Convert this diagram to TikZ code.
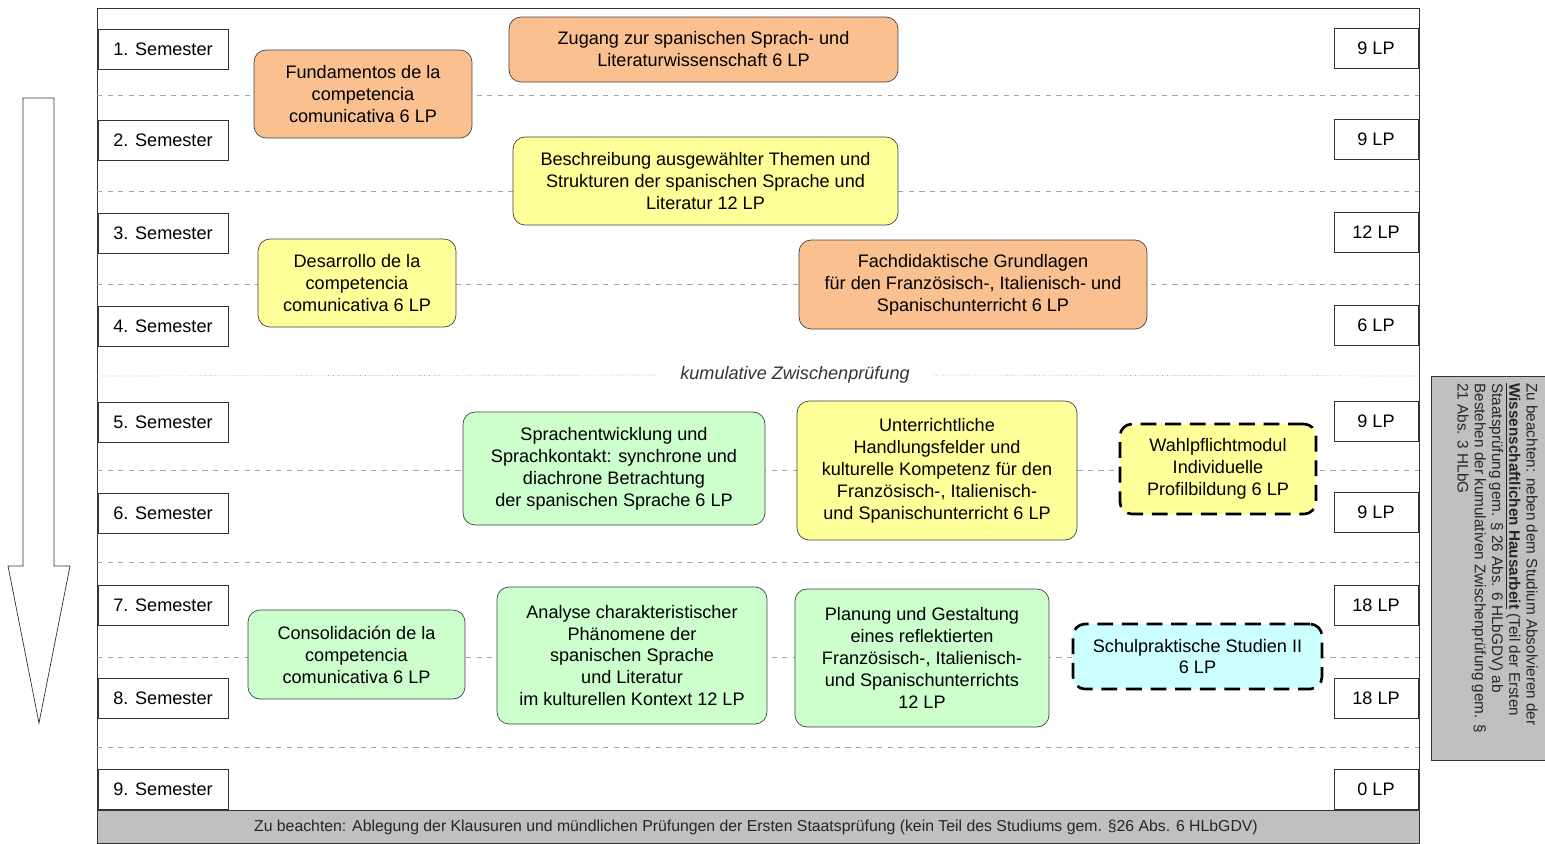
\documentclass[tikz,border=0pt]{standalone}
\usepackage{fontspec}
\setmainfont{Liberation Sans}
\definecolor{orangefill}{HTML}{FAC090}
\definecolor{yellowfill}{HTML}{FFFF99}
\definecolor{greenfill}{HTML}{CCFFCC}
\definecolor{cyanfill}{HTML}{CCFFFF}
\definecolor{notegray}{HTML}{C0C0C0}
\definecolor{rulegray}{HTML}{A6A6A6}
\begin{document}
\begin{tikzpicture}[x=0.02cm, y=-0.02cm,
    sem/.style={draw=black!80, fill=white, minimum width=2.6cm, minimum height=0.8cm, inner sep=0pt, font=\fontsize{10.3}{12.5}\selectfont},
    lp/.style={draw=black!80, fill=white, minimum width=1.68cm, minimum height=0.8cm, inner sep=0pt, font=\fontsize{10.3}{12.5}\selectfont},
    modul/.style={draw=black!75, rounded corners=0.24cm, align=center, inner sep=0pt, font=\fontsize{10.3}{12.5}\selectfont},
    wahl/.style={modul, draw=black, line width=1.5pt, dash pattern=on 9pt off 5pt},
    row/.style={draw=rulegray, dashed, thin}]
    \useasboundingbox (0,0) rectangle (1545,843);
    % Frame and semester rows
    \draw[black!80] (97,8) rectangle (1419,843);
    \foreach \y in {95,191,284,470,562,657,747}
        \draw[row] (97,\y) -- (1419,\y);
    \node[font=\fontsize{10.3}{12.5}\selectfont\itshape, text=black!80] (zp) at (795,375) {kumulative Zwischenprüfung};
    \draw[rulegray, densely dotted] (97,376) -- ([xshift=-0.35cm]zp.west);
    \draw[rulegray, densely dotted] ([xshift=0.35cm]zp.east) -- (1419,376);
    % Time arrow
    \draw[black!80, fill=white] (23,98) -- (54,98) -- (54,566) -- (70,566) -- (39,723) -- (8,566) -- (23,566) -- cycle;
    % Semester labels
    \node[sem] (s1) at (163,49) {1. Semester};
    \node[sem] (s2) at (163,140) {2. Semester};
    \node[sem] (s3) at (163,233) {3. Semester};
    \node[sem] (s4) at (163,326) {4. Semester};
    \node[sem] (s5) at (163,422) {5. Semester};
    \node[sem] (s6) at (163,513) {6. Semester};
    \node[sem] (s7) at (163,605) {7. Semester};
    \node[sem] (s8) at (163,698) {8. Semester};
    \node[sem] (s9) at (163,789) {9. Semester};
    % Credit points
    \node[lp] (lp1) at (1376,48) {9 LP};
    \node[lp] (lp2) at (1376,139) {9 LP};
    \node[lp] (lp3) at (1376,232) {12 LP};
    \node[lp] (lp4) at (1376,325) {6 LP};
    \node[lp] (lp5) at (1376,421) {9 LP};
    \node[lp] (lp6) at (1376,512) {9 LP};
    \node[lp] (lp7) at (1376,605) {18 LP};
    \node[lp] (lp8) at (1376,698) {18 LP};
    \node[lp] (lp9) at (1376,789) {0 LP};
    % Modules
    \node[modul, fill=orangefill, minimum width=4.36cm, minimum height=1.76cm] (fund) at (363,94) {Fundamentos de la\\competencia\\comunicativa 6 LP};
    \node[modul, fill=orangefill, minimum width=7.78cm, minimum height=1.3cm] (zug) at (703.5,49.5) {Zugang zur spanischen Sprach- und\\Literaturwissenschaft 6 LP};
    \node[modul, fill=yellowfill, minimum width=7.7cm, minimum height=1.76cm] (besch) at (705.5,181) {Beschreibung ausgewählter Themen und\\Strukturen der spanischen Sprache und\\Literatur 12 LP};
    \node[modul, fill=yellowfill, minimum width=3.96cm, minimum height=1.76cm] (desa) at (357,283) {Desarrollo de la\\competencia\\comunicativa 6 LP};
    \node[modul, fill=orangefill, minimum width=6.96cm, minimum height=1.78cm] (fdg) at (973,284.5) {Fachdidaktische Grundlagen\\für den Französisch-, Italienisch- und\\Spanischunterricht 6 LP};
    \node[modul, fill=greenfill, minimum width=6.04cm, minimum height=2.26cm] (sprach) at (614,468.5) {Sprachentwicklung und\\Sprachkontakt: synchrone und\\diachrone Betrachtung\\der spanischen Sprache 6 LP};
    \node[modul, fill=yellowfill, minimum width=5.6cm, minimum height=2.78cm] (unt) at (937,470.5) {Unterrichtliche\\Handlungsfelder und\\kulturelle Kompetenz für den\\Französisch-, Italienisch-\\und Spanischunterricht 6 LP};
    \node[wahl, fill=yellowfill, minimum width=3.92cm, minimum height=1.8cm] (wpm) at (1218,469) {Wahlpflichtmodul\\Individuelle\\Profilbildung 6 LP};
    \node[modul, fill=greenfill, minimum width=4.34cm, minimum height=1.78cm] (cons) at (356.5,654.5) {Consolidación de la\\competencia\\comunicativa 6 LP};
    \node[modul, fill=greenfill, minimum width=5.4cm, minimum height=2.74cm] (anal) at (632,655.5) {Analyse charakteristischer\\Phänomene der\\spanischen Sprache\\und Literatur\\im kulturellen Kontext 12 LP};
    \node[modul, fill=greenfill, minimum width=5.08cm, minimum height=2.76cm] (plan) at (922,658) {Planung und Gestaltung\\eines reflektierten\\Französisch-, Italienisch-\\und Spanischunterrichts\\12 LP};
    \node[wahl, fill=cyanfill, minimum width=4.98cm, minimum height=1.3cm] (sps) at (1197.5,656.5) {Schulpraktische Studien II\\6 LP};
    % Notes
    \fill[notegray, draw=black!80] (97,810) rectangle (1419,843);
    \node[font=\fontsize{9}{11}\selectfont, text=black!85] (klaus) at (756,827) {Zu beachten: Ablegung der Klausuren und mündlichen Prüfungen der Ersten Staatsprüfung (kein Teil des Studiums gem. §26 Abs. 6 HLbGDV)};
    \fill[notegray, draw=black!80] (1431,376) rectangle (1545,760);
    \node[rotate=-90, anchor=north west, align=left, inner sep=0pt, font=\fontsize{8.7}{9.8}\selectfont, text=black!85] (haus) at (1538,383) {Zu beachten: neben dem Studium Absolvieren der\\\textbf{\underline{Wissenschaftlichen Hausarbeit}} (Teil der Ersten\\Staatsprüfung gem. § 26 Abs. 6 HLbGDV) ab\\Bestehen der kumulativen Zwischenprüfung gem. §\\21 Abs. 3 HLbG};
\end{tikzpicture}
\end{document}
